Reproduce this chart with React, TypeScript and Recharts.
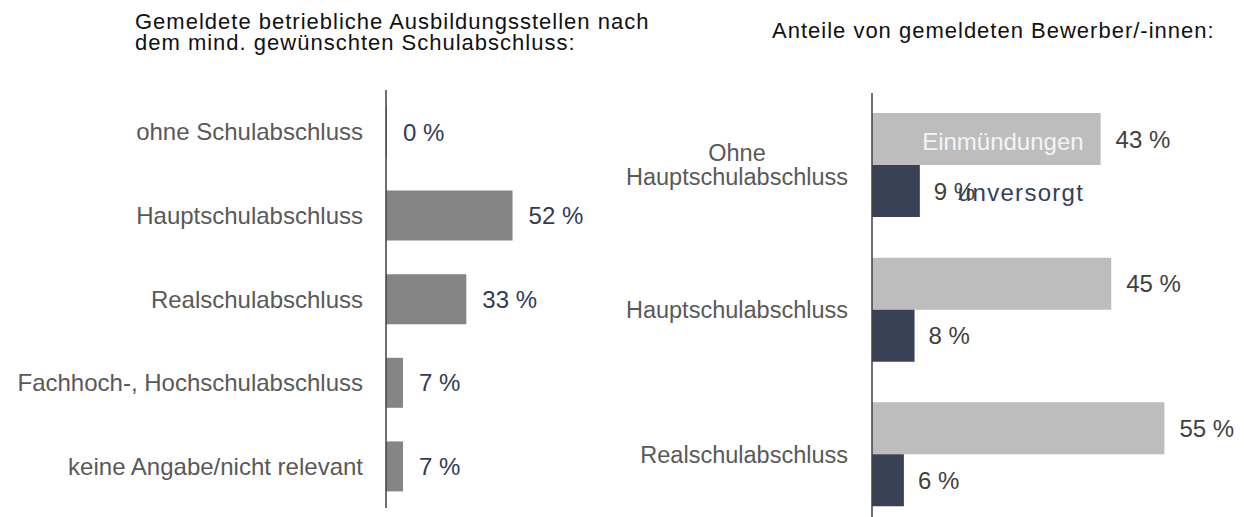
import React from "react";
import { BarChart, Bar, XAxis, YAxis, LabelList } from "recharts";

const leftTitle = ["Gemeldete betriebliche Ausbildungsstellen nach", "dem mind. gewünschten Schulabschluss:"];
const rightTitle = "Anteile von gemeldeten Bewerber/-innen:";

const leftCategories = [
  "ohne Schulabschluss",
  "Hauptschulabschluss",
  "Realschulabschluss",
  "Fachhoch-, Hochschulabschluss",
  "keine Angabe/nicht relevant",
];
const leftValues = [0, 52, 33, 7, 7];

const rightCategories = ["Ohne\nHauptschulabschluss", "Hauptschulabschluss", "Realschulabschluss"];
const seriesNames = ["Einmündungen", "unversorgt"];
const einmuendungen = [43, 45, 55];
const unversorgt = [9, 8, 6];

const leftData = leftCategories.map((name, i) => ({ name, value: leftValues[i] }));
const rightData = rightCategories.map((name, i) => ({
  name,
  einm: einmuendungen[i],
  unv: unversorgt[i],
}));

const FONT = "'Liberation Sans', Arial, sans-serif";
const pct = (v: any) => `${v} %`;

const LeftTick = ({ x, y, payload }: any) => (
  <text x={x} y={y} textAnchor="end" dominantBaseline="central" fill="#595959" fontSize={24} fontFamily={FONT}>
    {payload.value}
  </text>
);

const RightTick = ({ x, y, payload }: any) => {
  const lines = String(payload.value).split("\n");
  if (lines.length === 1) {
    return (
      <text x={x} y={y} textAnchor="end" dominantBaseline="central" fill="#595959" fontSize={23.5} fontFamily={FONT}>
        {lines[0]}
      </text>
    );
  }
  return (
    <text x={x - 111} y={y} textAnchor="middle" fill="#595959" fontSize={23.5} fontFamily={FONT}>
      {lines.map((l, i) => (
        <tspan key={i} x={x - 111} y={y + (i - (lines.length - 1) / 2) * 24} dominantBaseline="central">
          {l}
        </tspan>
      ))}
    </text>
  );
};

// series name written inside the first light bar
const InsideName = ({ x, y, width, height, index }: any) =>
  index === 0 ? (
    <text x={x + width - 17} y={y + height / 2 + 2} textAnchor="end" dominantBaseline="central" fill="#f4f4f4" fontSize={24} fontFamily={FONT}>
      {seriesNames[0]}
    </text>
  ) : null;

// series name after the first dark bar's value
const AfterName = ({ x, y, width, height, index }: any) =>
  index === 0 ? (
    <text x={x + width + 38} y={y + height / 2 + 1} textAnchor="start" dominantBaseline="central" fill="#34405a" fontSize={24} fontFamily={FONT} letterSpacing={1.3}>
      {seriesNames[1]}
    </text>
  ) : null;

export default function App() {
  return (
    <div
      style={{
        position: "absolute",
        left: 0,
        top: 0,
        width: 1244,
        height: 517,
        overflow: "hidden",
        background: "#fff",
        fontFamily: FONT,
      }}
    >
      <div style={{ position: "absolute", left: 0, top: 0 }}>
        <BarChart
          layout="vertical"
          width={600}
          height={517}
          data={leftData}
          margin={{ top: 90, right: 68, bottom: 9, left: 0 }}
        >
          <XAxis type="number" domain={[0, 60]} hide />
          <YAxis
            type="category"
            dataKey="name"
            width={386}
            tickLine={false}
            tickSize={0}
            tickMargin={23}
            tick={<LeftTick />}
            axisLine={{ stroke: "#404040", strokeWidth: 1.5 }}
          />
          <Bar dataKey="value" fill="#858585" barSize={50} minPointSize={1} isAnimationActive={false}>
            <LabelList
              dataKey="value"
              position="right"
              offset={16}
              formatter={pct}
              fill="#2f3b57"
              fontSize={24}
              fontFamily={FONT}
            />
          </Bar>
        </BarChart>
      </div>

      <div style={{ position: "absolute", left: 600, top: 0 }}>
        <BarChart
          layout="vertical"
          width={644}
          height={527}
          data={rightData}
          barGap={0}
          margin={{ top: 93, right: 53, bottom: 0, left: 0 }}
        >
          <XAxis type="number" domain={[0, 60]} hide />
          <YAxis
            type="category"
            dataKey="name"
            width={272}
            tickLine={false}
            tickSize={0}
            tickMargin={24}
            tick={<RightTick />}
            axisLine={{ stroke: "#404040", strokeWidth: 1.5 }}
          />
          <Bar dataKey="einm" name={seriesNames[0]} fill="#bdbdbd" barSize={52} isAnimationActive={false}>
            <LabelList
              dataKey="einm"
              position="right"
              offset={15}
              formatter={pct}
              fill="#404040"
              fontSize={24}
              fontFamily={FONT}
            />
            <LabelList dataKey="einm" content={<InsideName />} />
          </Bar>
          <Bar dataKey="unv" name={seriesNames[1]} fill="#394156" barSize={52} isAnimationActive={false}>
            <LabelList
              dataKey="unv"
              position="right"
              offset={14}
              formatter={pct}
              fill="#404040"
              fontSize={24}
              fontFamily={FONT}
            />
            <LabelList dataKey="unv" content={<AfterName />} />
          </Bar>
        </BarChart>
      </div>

      <svg width={1244} height={517} style={{ position: "absolute", left: 0, top: 0, pointerEvents: "none" }}>
        <text fontFamily={FONT} fontSize={22} letterSpacing={1} fill="#111">
          <tspan x={135} y={28.5}>{leftTitle[0]}</tspan>
          <tspan x={135} y={49.5}>{leftTitle[1]}</tspan>
        </text>
        <text x={772} y={38.3} fontFamily={FONT} fontSize={22} letterSpacing={1} fill="#111">
          {rightTitle}
        </text>
      </svg>
    </div>
  );
}
